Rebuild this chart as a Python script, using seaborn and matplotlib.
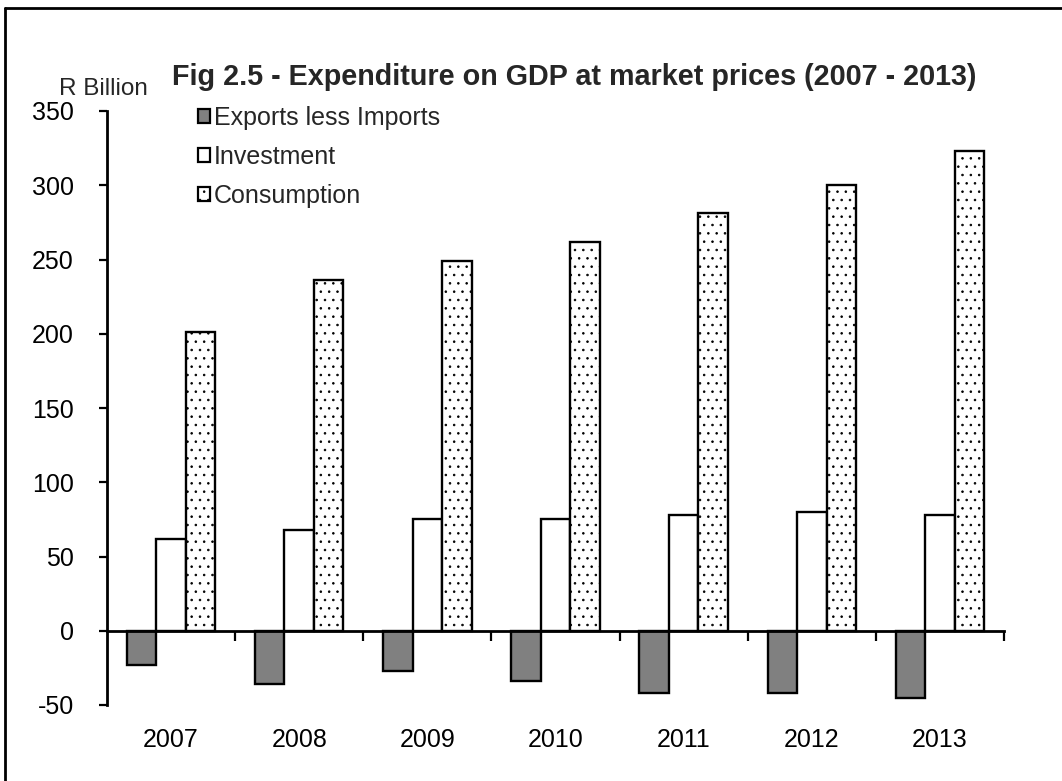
import numpy as np
import pandas as pd
import matplotlib
matplotlib.use("Agg")
import matplotlib.pyplot as plt
from matplotlib.lines import Line2D
from matplotlib.patches import Patch
import seaborn as sns

years = ["2007", "2008", "2009", "2010", "2011", "2012", "2013"]
exports_less_imports = [-23, -36, -27, -34, -42, -42, -45]
investment = [62, 68, 75, 75, 78, 80, 78]
consumption = [201, 236, 249, 262, 281, 300, 323]
series = ["Exports less Imports", "Investment", "Consumption"]
y_ticks = [-50, 0, 50, 100, 150, 200, 250, 300, 350]

df = pd.DataFrame({
    "year": years * 3,
    "series": [series[0]] * 7 + [series[1]] * 7 + [series[2]] * 7,
    "value": exports_less_imports + investment + consumption,
})

sns.set_theme(style="white")
plt.rcParams["font.family"] = ["Liberation Sans", "DejaVu Sans"]
plt.rcParams["hatch.color"] = "#555555"
plt.rcParams["hatch.linewidth"] = 0.6

fig = plt.figure(figsize=(10.62, 7.81), dpi=100)
ax = fig.add_axes([107 / 1062, 1 - 705 / 781, (1004 - 107) / 1062, (705 - 111) / 781])

palette = {series[0]: "#808080", series[1]: "white", series[2]: "white"}
sns.barplot(data=df, x="year", y="value", hue="series", hue_order=series,
            order=years, palette=palette, width=0.69, dodge=True,
            edgecolor="black", linewidth=1.7, saturation=1, ax=ax, legend=False)

# dotted fill on the consumption bars
for cont, name in zip(ax.containers, series):
    if name == "Consumption":
        for bar in cont:
            bar.set_hatch("..")

ax.set_ylim(-50, 350)
ax.set_xlim(-0.5, len(years) - 0.5)
ax.set_yticks(y_ticks)
ax.set_yticklabels([str(v) for v in y_ticks], fontsize=18)
ax.set_xlabel("")
ax.set_ylabel("")

for s in ["top", "right"]:
    ax.spines[s].set_visible(False)
for s in ["left", "bottom"]:
    ax.spines[s].set_linewidth(2)
    ax.spines[s].set_color("black")
ax.spines["bottom"].set_position(("data", 0))

ax.tick_params(axis="y", direction="out", length=6, width=1.6, pad=18, left=True,
               colors="black")
ax.set_xticks(range(len(years)))
ax.set_xticklabels(years, fontsize=18)
ax.tick_params(axis="x", length=0, pad=70, colors="black")
ax.set_xticks(np.arange(0.5, len(years), 1.0), minor=True)
ax.tick_params(axis="x", which="minor", direction="out", length=7, width=1.6, bottom=True,
               color="black")

handles = [Patch(facecolor="#808080", edgecolor="black", linewidth=1.6),
           Patch(facecolor="white", edgecolor="black", linewidth=1.6),
           Patch(facecolor="white", edgecolor="black", linewidth=1.6, hatch="..")]
ax.legend(handles, series, loc="upper left", bbox_to_anchor=(0.101, 1.008),
          frameon=False, fontsize=18, handlelength=0.5, handleheight=0.5,
          handletextpad=0.15, labelspacing=0.6, borderaxespad=0, borderpad=0)

fig.text(574 / 1062, 1 - 77 / 781, "Fig 2.5 - Expenditure on GDP at market prices (2007 - 2013)",
         ha="center", va="center", fontsize=20.7, fontweight="bold")
fig.text(103 / 1062, 1 - 89 / 781, "R Billion", ha="center", va="center", fontsize=17.5)

# chart frame (top and left edges visible)
fig.add_artist(Line2D([5 / 1062, 1.0], [1 - 8 / 781, 1 - 8 / 781], color="black", lw=2,
                      transform=fig.transFigure))
fig.add_artist(Line2D([5 / 1062, 5 / 1062], [0, 1 - 8 / 781], color="black", lw=2,
                      transform=fig.transFigure))

fig.savefig("out.png", dpi=100, facecolor="white")
